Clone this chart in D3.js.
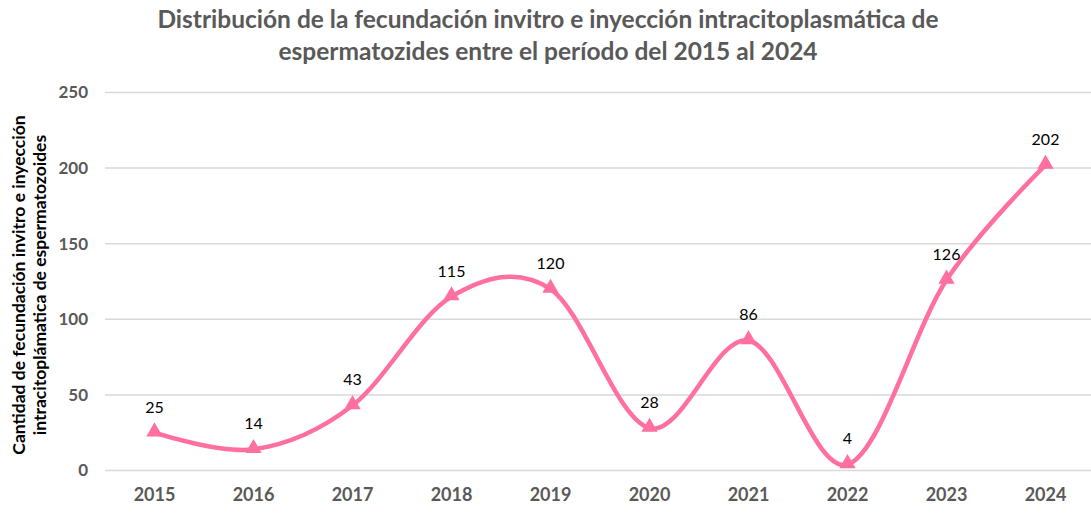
<!DOCTYPE html>
<html>
<head>
<meta charset="utf-8">
<script src="https://cdn.jsdelivr.net/npm/d3@7"></script>
<style>
  body { margin: 0; background: #fff; }
  text { font-family: Lato, "Open Sans", sans-serif; }
</style>
</head>
<body>
<div id="plot"></div>
<script>
  var years = ["2015", "2016", "2017", "2018", "2019", "2020", "2021", "2022", "2023", "2024"];
  var cantidades = [25, 14, 43, 115, 120, 28, 86, 4, 126, 202];
  var yTicks = [0, 50, 100, 150, 200, 250];
  var titulo = ["Distribución de la fecundación invitro e inyección intracitoplasmática de",
                "espermatozides entre el período del 2015 al 2024"];
  var tituloEje = ["Cantidad de fecundación invitro e inyección",
                   "intracitoplámatica de espermatozoides"];

  var W = 1091, H = 513;
  var margin = {top: 92.5, right: -4, bottom: 42.5, left: 105};
  var width = W - margin.left - margin.right,
      height = H - margin.top - margin.bottom;

  var data = years.map(function(y, i) { return {ano: y, valor: cantidades[i]}; });

  var svg = d3.select("#plot")
    .append("svg")
    .attr("width", W)
    .attr("height", H);

  var x = d3.scaleBand().domain(years).range([0, width]),
      y = d3.scaleLinear().domain([0, 250]).range([height, 0]);

  var g = svg.append("g")
    .attr("transform", "translate(" + margin.left + "," + margin.top + ")");

  // gridlines
  g.selectAll(".grid")
    .data(yTicks)
    .enter().append("line")
      .attr("x1", 0)
      .attr("x2", width)
      .attr("y1", function(d) { return y(d); })
      .attr("y2", function(d) { return y(d); })
      .style("stroke", "#d9d9d9")
      .style("stroke-width", 1.5);

  // y axis
  var yAxis = g.append("g")
    .call(d3.axisLeft(y).tickValues(yTicks).tickSize(0).tickPadding(17));
  yAxis.select(".domain").remove();
  yAxis.selectAll("text")
    .style("font-size", "17px")
    .style("font-weight", "bold")
    .style("fill", "#595959");

  // x axis
  var xAxis = g.append("g")
    .attr("transform", "translate(0," + height + ")")
    .call(d3.axisBottom(x).tickSize(0).tickPadding(18));
  xAxis.select(".domain").remove();
  xAxis.selectAll("text")
    .style("font-size", "18px")
    .style("font-weight", "bold")
    .style("fill", "#595959");

  var cx = function(d) { return x(d.ano) + x.bandwidth() / 2; };

  var line = d3.line()
    .x(cx)
    .y(function(d) { return y(d.valor); })
    .curve(d3.curveCardinal.tension(0));

  g.append("path")
    .datum(data)
    .attr("d", line)
    .style("fill", "none")
    .style("stroke", "#ff6f9f")
    .style("stroke-width", 4.5);

  g.selectAll(".dot")
    .data(data)
    .enter().append("path")
      .attr("d", d3.symbol().type(d3.symbolTriangle).size(115))
      .attr("transform", function(d) { return "translate(" + cx(d) + "," + (y(d.valor) - 1) + ")"; })
      .style("fill", "#ff6f9f");

  g.selectAll(".lbl")
    .data(data)
    .enter().append("text")
      .attr("x", cx)
      .attr("y", function(d) { return y(d.valor) - 20; })
      .attr("text-anchor", "middle")
      .style("font-size", "16px")
      .style("fill", "#000")
      .text(function(d) { return d.valor; });

  // title
  svg.selectAll(".titulo")
    .data(titulo)
    .enter().append("text")
      .attr("x", 548)
      .attr("y", function(d, i) { return 28 + i * 32; })
      .attr("text-anchor", "middle")
      .style("font-size", "24.5px")
      .style("font-weight", "bold")
      .style("fill", "#595959")
      .text(function(d) { return d; });

  // axis title
  svg.selectAll(".ejeTitulo")
    .data(tituloEje)
    .enter().append("text")
      .attr("transform", function(d, i) { return "translate(" + (25 + i * 21) + ",285) rotate(-90)"; })
      .attr("text-anchor", "middle")
      .style("font-size", "17.5px")
      .style("font-weight", "bold")
      .style("fill", "#000")
      .text(function(d) { return d; });
</script>
</body>
</html>
